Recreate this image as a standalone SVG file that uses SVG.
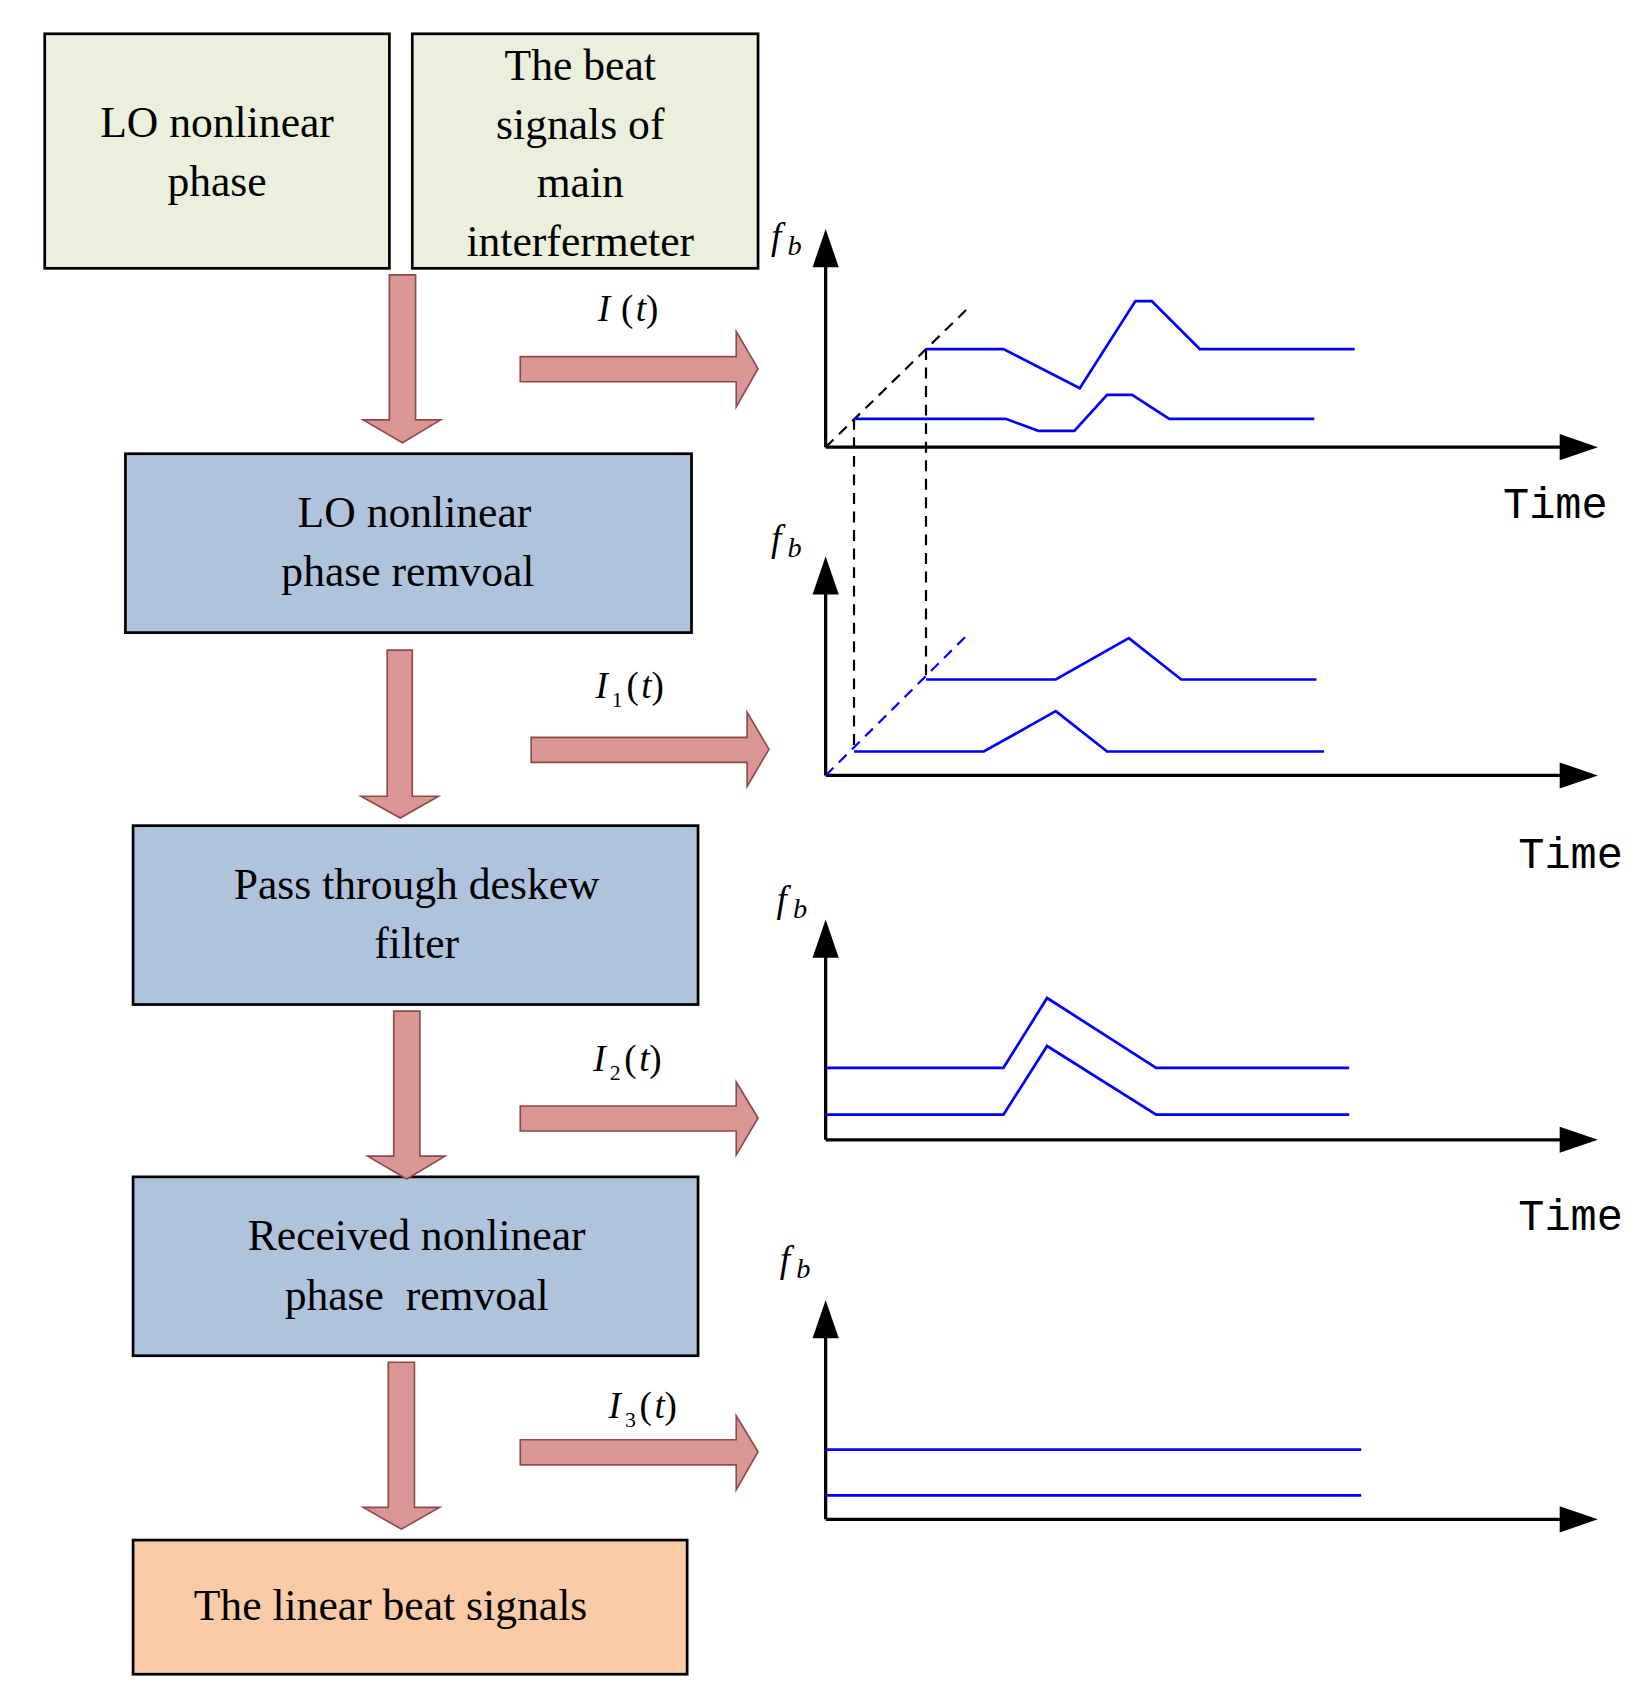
<svg xmlns="http://www.w3.org/2000/svg" width="1636" height="1708" viewBox="0 0 1636 1708">
<defs>
<style>
.box{stroke:#000;stroke-width:2.5}
.t{font-family:"Liberation Serif",serif;font-size:40px;text-anchor:middle;fill:#000}
.it{font-family:"Liberation Serif",serif;font-style:italic;font-size:34px;fill:#000}
.sub{font-family:"Liberation Serif",serif;font-size:20px;fill:#000}
.tm{font-family:"Liberation Mono",monospace;font-size:40px;fill:#000}
.ax{stroke:#000;stroke-width:3;fill:none}
.bl{stroke:#0000ff;stroke-width:2.5;fill:none}
.dash{stroke:#000;stroke-width:2;stroke-dasharray:10 7;fill:none}
.arr{fill:#d99694;stroke:#8c4a48;stroke-width:1.5}
</style>
</defs>
<rect width="1636" height="1708" fill="#fff"/>
<g transform="scale(1.0907)">
<g id="n1"><rect class="box" x="41" y="31" width="316" height="215" fill="#ebf0dc"/><text class="t" x="199" y="126">LO nonlinear</text><text class="t" x="199" y="180">phase</text></g>
<g id="n2"><rect class="box" x="378" y="31" width="317" height="215" fill="#ebf0dc"/><text class="t" x="532" y="73">The beat</text><text class="t" x="532" y="127">signals of</text><text class="t" x="532" y="181">main</text><text class="t" x="532" y="235">interfermeter</text></g>
<g id="n3"><rect class="box" x="115" y="416" width="519" height="164" fill="#b0c3dc"/><text class="t" x="380" y="483">LO nonlinear</text><text class="t" x="374" y="537">phase remvoal</text></g>
<g id="n4"><rect class="box" x="122" y="757" width="518" height="164" fill="#b0c3dc"/><text class="t" x="382" y="824">Pass through deskew</text><text class="t" x="382" y="878">filter</text></g>
<g id="n5"><rect class="box" x="122" y="1079" width="518" height="164" fill="#b0c3dc"/><text class="t" x="382" y="1146">Received nonlinear</text><text class="t" x="382" y="1201" xml:space="preserve">phase  remvoal</text></g>
<g id="n6"><rect class="box" x="122" y="1412" width="508" height="123" fill="#f9cba7"/><text class="t" x="358" y="1485">The linear beat signals</text></g>
<g id="connectors">
<polygon class="arr" points="357,252 381,252 381,385 404,385 369,406 333,385 357,385"/>
<polygon class="arr" points="355,596 378,596 378,730 402,730 367,750 331,730 355,730"/>
<polygon class="arr" points="361,927 385,927 385,1060 408,1060 373,1081 337,1060 361,1060"/>
<polygon class="arr" points="356,1249 380,1249 380,1382 403,1382 368,1402 333,1382 356,1382"/>
<polygon class="arr" points="477,327 675,327 675,304 695,338 675,373 675,350 477,350"/>
<polygon class="arr" points="487,676 685,676 685,653 705,687 685,721 685,699 487,699"/>
<polygon class="arr" points="477,1014 675,1014 675,992 695,1025 675,1059 675,1037 477,1037"/>
<polygon class="arr" points="477,1320 675,1320 675,1298 695,1331 675,1366 675,1343 477,1343"/>
</g>
<g id="labels">
<text class="it" x="548" y="294">I</text><text class="t" style="font-size:34px" x="575" y="294">(</text><text class="it" x="583" y="294">t</text><text class="t" style="font-size:34px" x="598" y="294">)</text>
<text class="it" x="546" y="640">I</text><text class="sub" x="561" y="648">1</text><text class="t" style="font-size:34px" x="580" y="640">(</text><text class="it" x="588" y="640">t</text><text class="t" style="font-size:34px" x="603" y="640">)</text>
<text class="it" x="544" y="982">I</text><text class="sub" x="559" y="990">2</text><text class="t" style="font-size:34px" x="578" y="982">(</text><text class="it" x="586" y="982">t</text><text class="t" style="font-size:34px" x="601" y="982">)</text>
<text class="it" x="558" y="1300">I</text><text class="sub" x="573" y="1308">3</text><text class="t" style="font-size:34px" x="592" y="1300">(</text><text class="it" x="600" y="1300">t</text><text class="t" style="font-size:34px" x="615" y="1300">)</text>
</g>
<g id="chart1">
<path class="ax" d="M757,410V240M757,410H1435"/>
<polygon points="745,245 757,210 769,245"/><polygon points="1430,398 1465,410 1430,422"/>
<text class="it" x="707" y="228">f</text><text class="it" style="font-size:26px" x="722" y="234">b</text>
<text class="tm" x="1378" y="475">Time</text>
<path class="dash" d="M757,410L888,282M783,384V690M849,320V620"/>
<polyline class="bl" points="849,320 920,320 990,356 1041,276 1056,276 1100,320 1242,320"/>
<polyline class="bl" points="783,384 922,384 952,395 985,395 1015,362 1038,362 1072,384 1205,384"/>
</g>
<g id="chart2">
<path class="ax" d="M757,711V540M757,711H1435"/>
<polygon points="745,545 757,510 769,545"/><polygon points="1430,699 1465,711 1430,723"/>
<text class="it" x="707" y="505">f</text><text class="it" style="font-size:26px" x="722" y="511">b</text>
<text class="tm" x="1392" y="796">Time</text>
<path class="dash" style="stroke:#0000ff" d="M757,711L888,581"/>
<polyline class="bl" points="849,623 968,623 1035,585 1083,623 1207,623"/>
<polyline class="bl" points="783,689 902,689 968,652 1015,689 1214,689"/>
</g>
<g id="chart3">
<path class="ax" d="M757,1045V873M757,1045H1435"/>
<polygon points="745,878 757,843 769,878"/><polygon points="1430,1033 1465,1045 1430,1057"/>
<text class="it" x="712" y="836">f</text><text class="it" style="font-size:26px" x="727" y="842">b</text>
<text class="tm" x="1392" y="1128">Time</text>
<polyline class="bl" points="757,979 920,979 960,915 1060,979 1237,979"/>
<polyline class="bl" points="757,1022 920,1022 960,959 1060,1022 1237,1022"/>
</g>
<g id="chart4">
<path class="ax" d="M757,1393V1222M757,1393H1435"/>
<polygon points="745,1227 757,1192 769,1227"/><polygon points="1430,1381 1465,1393 1430,1405"/>
<text class="it" x="715" y="1166">f</text><text class="it" style="font-size:26px" x="730" y="1172">b</text>
<path class="bl" d="M757,1329H1248M757,1371H1248"/>
</g>
</g>
</svg>
